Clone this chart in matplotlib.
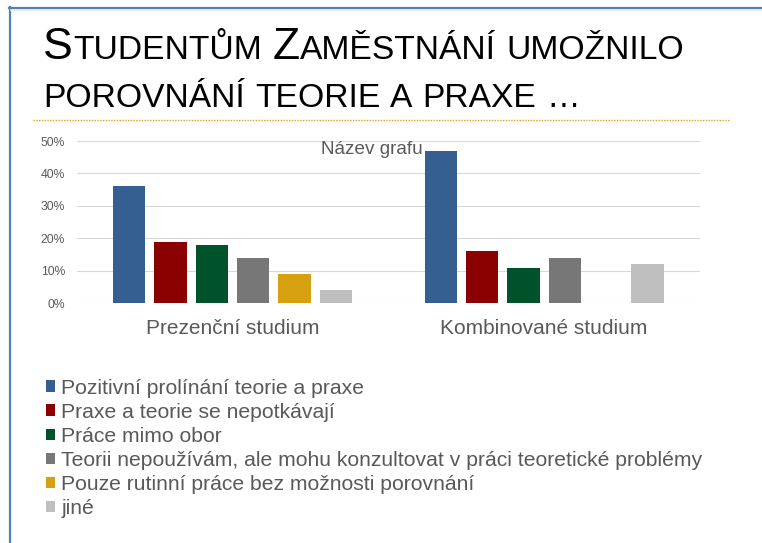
from matplotlib import pyplot as plt
from matplotlib.transforms import IdentityTransform
from matplotlib.lines import Line2D
import numpy as np

W, H = 762, 543

categories = ['Prezenční studium', 'Kombinované studium']
series = [
    'Pozitivní prolínání teorie a praxe',
    'Praxe a teorie se nepotkávají',
    'Práce mimo obor',
    'Teorii nepoužívám, ale mohu konzultovat v práci teoretické problémy',
    'Pouze rutinní práce bez možnosti porovnání',
    'jiné',
]
values = [
    [0.36, 0.47],
    [0.19, 0.16],
    [0.18, 0.11],
    [0.14, 0.14],
    [0.09, 0.00],
    [0.04, 0.12],
]
colors = ['#355F91', '#8B0000', '#00522A', '#777777', '#D6A010', '#BFBFBF']
y_ticks = [0, 0.1, 0.2, 0.3, 0.4, 0.5]

TXT = '#595959'
plt.rcParams['font.family'] = ['Liberation Sans', 'DejaVu Sans']

fig = plt.figure(figsize=(W / 100, H / 100), dpi=100)
fig.patch.set_facecolor('white')


def px(x, y):
    # top-left pixel coords -> figure fraction
    return x / W, 1 - y / H


# slide frame
fig.add_artist(Line2D([9 / W, 1], [1 - 7.5 / H] * 2, color='#4F81BD', lw=1.6))
fig.add_artist(Line2D([9.5 / W] * 2, [0, 1 - 7 / H], color='#4F81BD', lw=1.6))
fig.add_artist(Line2D([11 / W, 1], [1 - 10 / H] * 2, color='#E3E3E3', lw=1.2))

# dotted separator under the title
fig.add_artist(Line2D([33 / W, 729 / W], [1 - 120 / H] * 2, color='#D9A520',
                      lw=1.0, ls=(0, (1, 1))))


def small_caps(x, y, parts):
    renderer = fig.canvas.get_renderer()
    for s, size in parts:
        if s == ' ':
            x += 0.278 * size * 100 / 72
            continue
        t = fig.text(x, H - y, s, fontsize=size, color='black',
                     va='baseline', ha='left', transform=IdentityTransform())
        x += t.get_window_extent(renderer).width + 0.7


big, small = 32, 24.2
small_caps(43, 59, [('S', big), ('TUDENTŮM', small), (' ', small),
                    ('Z', big), ('AMĚSTNÁNÍ', small), (' ', small),
                    ('UMOŽNILO', small)])
small_caps(43, 107, [('POROVNÁNÍ', small), (' ', small), ('TEORIE', small),
                     (' ', small), ('A', small), (' ', small), ('PRAXE', small),
                     (' ', small), ('…', small)])

# chart
left, right, top, bottom = 76.7, 700, 141, 303.3
ax = fig.add_axes([left / W, 1 - bottom / H, (right - left) / W, (bottom - top) / H])

x = np.arange(len(categories))
step, width = 0.1325, 0.104
bars = []
for i, (name, vals) in enumerate(zip(series, values)):
    b = ax.bar(x + (i - 2.5) * step, vals, width, color=colors[i], label=name, zorder=3)
    bars.append(b)

ax.set_xlim(-0.5, 1.5)
ax.set_ylim(0, 0.5)
ax.set_yticks(y_ticks)
ax.set_yticklabels([f'{int(round(v * 100))}%' for v in y_ticks])
ax.set_xticks(x)
ax.set_xticklabels(categories)
ax.tick_params(axis='y', length=0, pad=8.5, labelsize=8.7, labelcolor=TXT)
ax.tick_params(axis='x', length=0, pad=11.5, labelsize=15, labelcolor=TXT)
ax.grid(axis='y', color='#D9D9D9', lw=0.8, zorder=0)
for s in ax.spines.values():
    s.set_visible(False)

fig.text(372 / W, 1 - 154.5 / H, 'Název grafu', fontsize=13.6, color=TXT,
         ha='center', va='baseline')

leg = fig.legend(handles=bars, labels=series, loc='upper left',
                 bbox_to_anchor=px(46, 378.5), frameon=False, fontsize=15.2,
                 handlelength=0.43, handleheight=0.43, handletextpad=0.3,
                 labelspacing=0.24, borderpad=0, borderaxespad=0)
for t in leg.get_texts():
    t.set_color(TXT)

plt.savefig('out.png', dpi=100)
